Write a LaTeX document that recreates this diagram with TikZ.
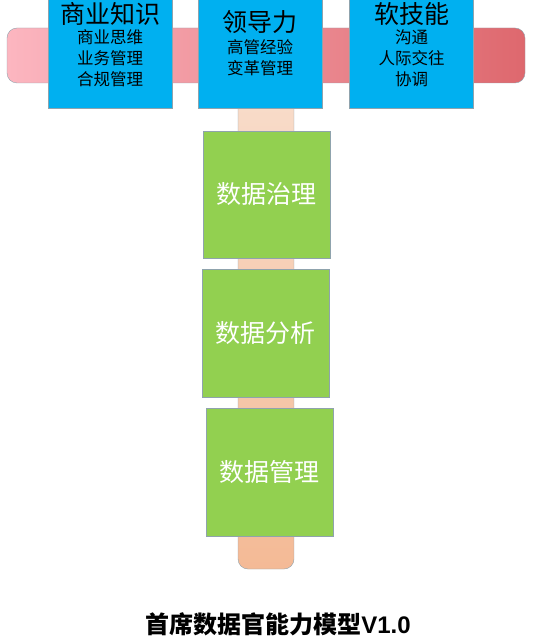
\documentclass[tikz,border=0pt]{standalone}
\usepackage{fontspec}
\setmainfont{Liberation Sans}
\newfontfamily\cjk{Noto Sans CJK SC}
\usepackage{xcolor}
\usetikzlibrary{positioning}
\definecolor{edgegray}{RGB}{143,163,173}
\definecolor{skyblue}{RGB}{0,176,240}
\definecolor{leafgreen}{RGB}{146,208,80}
\definecolor{pinkleft}{RGB}{252,182,192}
\definecolor{pinkright}{RGB}{222,104,110}
\definecolor{peachtop}{RGB}{248,220,202}
\definecolor{peachbot}{RGB}{244,186,150}

\begin{document}
\begin{tikzpicture}[x=1pt,y=-1pt,
    bluebox/.style={rectangle, draw=edgegray, fill=skyblue, minimum width=124pt, minimum height=130pt, inner sep=0pt},
    greenbox/.style={rectangle, draw=edgegray, fill=leafgreen, minimum width=127pt, minimum height=127pt, text=white, font=\cjk\fontsize{25}{28}\selectfont},
    headline/.style={inner sep=0pt, font=\cjk\fontsize{25}{28}\selectfont},
    subline/.style={inner sep=0pt, align=center, font=\cjk\fontsize{16.5}{21}\selectfont}
  ]
    \clip (0,0) rectangle (534,639);
    % bars
    \draw[draw=edgegray, rounded corners=10pt, left color=pinkleft, right color=pinkright] (7,28) rectangle (525,83);
    \draw[draw=edgegray, rounded corners=10pt, top color=peachtop, bottom color=peachbot] (238,90) rectangle (294,569);
    % skill boxes
    \node[bluebox] at (110,43) (biz) {};
    \node[bluebox] at (260,43) (lead) {};
    \node[bluebox] at (411.5,43) (soft) {};
    \node[headline] at (110,14) (bizhead) {商业知识};
    \node[subline] at (110,58) (bizsub) {商业思维\\业务管理\\合规管理};
    \node[headline] at (260,22) (leadhead) {领导力};
    \node[subline] at (260,57.5) (leadsub) {高管经验\\变革管理};
    \node[headline] at (411.5,14) (softhead) {软技能};
    \node[subline] at (411.5,58) (softsub) {沟通\\人际交往\\协调};
    % data boxes
    \node[greenbox] at (266.5,194.5) (gov) {数据治理};
    \node[greenbox, minimum height=128pt] at (265.5,333) (ana) {数据分析};
    \node[greenbox, minimum height=128pt] at (269.5,472) (mgmt) {数据管理};
    % title
    \node[font=\bfseries\fontsize{24}{28}\selectfont] at (278,624) (title) {{\cjk 首席数据官能力模型}V1.0};
\end{tikzpicture}
\end{document}
